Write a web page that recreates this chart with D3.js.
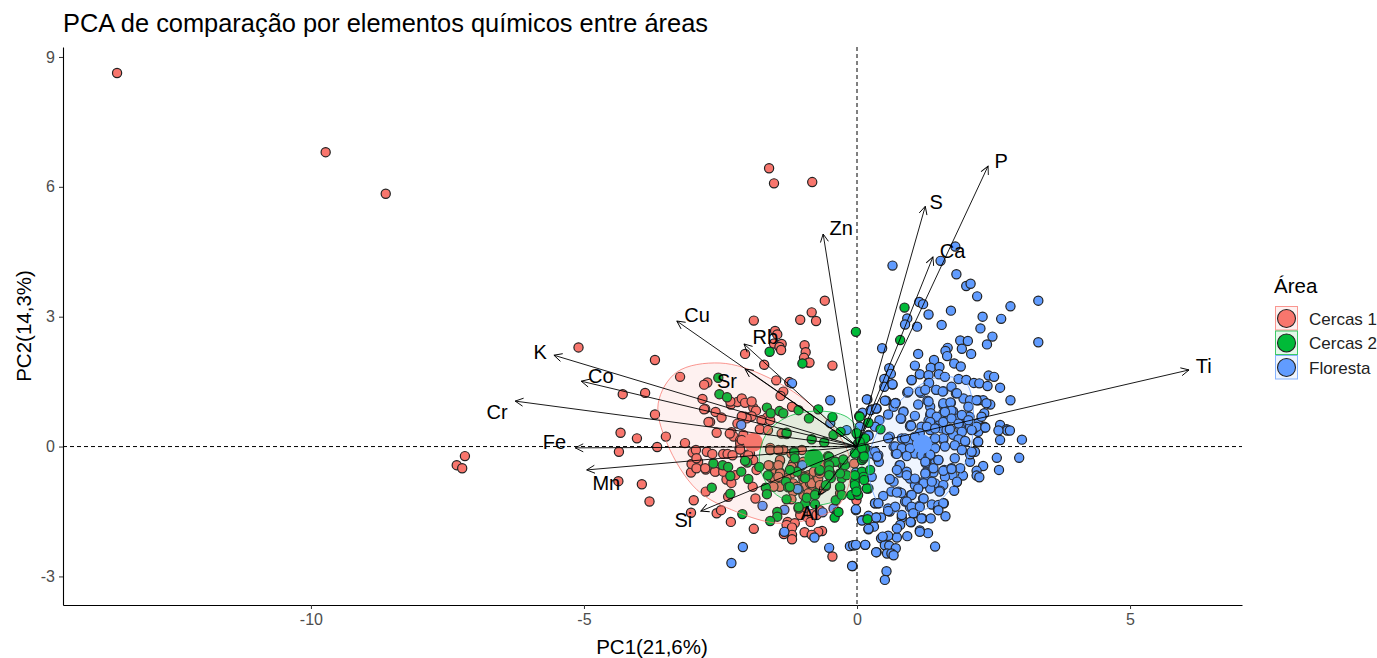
<!DOCTYPE html>
<html>
<head>
<meta charset="utf-8">
<script src="https://cdnjs.cloudflare.com/ajax/libs/d3/7.8.5/d3.min.js"></script>
<style>
  body { margin: 0; background: #fff; }
  text { font-family: "Liberation Sans", Arial, sans-serif; }
</style>
</head>
<body>
<svg id="chart" width="1377" height="658"></svg>
<script>
// scores as [PC1, PC2]
var cercas1 = [
  [-13.55,8.63],[-9.73,6.80],[-8.63,5.84],[-1.61,6.43],[-1.52,6.08],[-.82,6.11],[-5.10,2.29],[-7.33,-.43],[-7.18,-.22],[-7.23,-.50],
  [-.59,3.37],[-.83,3.10],[-.75,2.90],[-1.04,2.93],[-1.89,2.91],[-1.50,2.67],[-1.46,2.59],[-1.52,2.38],[-1.38,2.37],[-1.42,2.30],[-1.39,2.23],
  [-.96,2.34],[-.94,2.18],[-.97,2.05],[-.89,1.94],[-.87,1.94],[-.45,1.87],[-2.05,2.14],[-1.70,1.89],[-3.70,2.00],[-3.24,1.61],[-2.74,1.48],[-2.80,1.43],
  [-1.48,1.53],[-1.35,1.27],[-1.40,1.17],[-1.24,1.49],[-4.29,1.21],[-3.88,1.24],[-3.70,.74],[-4.33,.32],[-4.03,.19],[-3.50,.23],[-3.66,-.01],[-3.15,.08],
  [-2.83,1.10],[-2.78,.87],[-2.59,.80],[-2.48,.67],[-2.69,.57],[-2.72,.57],[-2.57,.32],[-2.31,.97],[-2.19,1.03],[-2.11,1.11],[-2.05,1.01],
  [-1.90,.90],[-1.85,.83],[-1.93,.70],[-2.05,.69],[-2.19,.53],[-2.02,.65],[-1.71,.61],[-1.65,.67],[-1.78,.40],[-2.30,.33],[-2.26,.23],[-2.14,.15],[-2.08,.27],
  [-2.15,-.05],[-1.93,0],[-1.19,.92],[-1.38,.30],[-1.29,.29],[-1.59,-.03],[-1.35,-.08],[-3.01,-.14],[-2.95,-.08],[-2.75,-.12],[-2.65,-.17],[-2.45,-.17],[-2.37,-.17],
  [-3.94,-.87],[-3.80,-1.27],[-2.99,-1.24],[-3.04,-1.53],[-2.57,-1.54],[-2.49,-1.47],[-2.31,-1.74],[-1.89,-1.90],[-2.77,-1.04],[-2.36,-1.16],[-1.86,-1.20],[-1.91,-.93],
  [-4.36,-.12],[-4.37,-.80],[-3.04,-.60],[-2.95,-.48],[-2.91,-.35],[-2.77,-.53],[-2.59,-.58],[-2.39,-.76],[-2.30,-.84],[-2.23,-.66],[-2.05,-.20],[-1.96,-.16],[-1.90,-.31],[-1.84,-.54],
  [-1.59,-.45],[-1.41,-.33],[-1.50,-.62],[-1.41,-.60],[-1.59,-.70],[-1.50,-.76],[-1.17,-.43],[-1.20,-.62],[-.98,-.35],[-1.01,-.66],[-.86,-.68],[-.74,-.58],[-.64,-.43],
  [-1.29,-.73],[-1.17,-.85],[-1.10,-.93],[-.98,-.77],[-.95,-.93],[-.86,-.85],[-.80,-.77],[-.71,-.85],[-.80,-1.00],[-.68,-1.00],[-.98,-1.12],[-.89,-1.08],[-1.17,-1.04],[-1.20,-1.22],[-1.41,-.93],
  [-.98,-1.47],[-.92,-1.62],[-.83,-1.56],[-.74,-1.58],[-.68,-1.47],[-1.04,-1.58],[-1.27,-1.74],[-1.14,-1.77],[-1.29,-1.81],[-1.19,-1.87],[-1.19,-2.04],[-1.19,-2.14],[-1.34,-2.02],[-.96,-1.98],[-.85,-1.74],[-.64,-1.95],[-.71,-1.97],[-.83,-2.04],
  [-.45,-2.54],[-.01,-1.24],[-.05,-.39],[-.31,-1.08],
  [-2.80,.86],[-2.32,1.04],[-1.93,1.04],[-2.33,.30],[-2.11,.70],[-1.75,.61],[-1.59,.61],[-2.14,.07],[-2.14,-.07],[-2.11,.15],[-1.63,.38],[-1.59,-.08],[-1.44,-.08],[-1.20,-.16],[-1.01,-.08],
  [-3.03,-.40],[-2.94,-.50],[-2.94,-.27],[-2.78,-.50],[-2.60,-.58],[-2.45,-.58],[-2.28,-.20],[-1.99,-.20],[-1.41,-.31],[-1.44,-.43],[-1.62,-.43],[-1.41,-.62],[-1.53,-.93],[-1.44,-.70],
  [-.89,-.66],[-.98,-.70],[-.83,-.85],[-.95,-.70],[-.71,-.74],[-.68,-.89],[-.79,-.58],[-.68,-.62],[-1.17,-.39],[-1.20,-.47]
];
var floresta = [
  [1.80,4.62],[1.53,4.29],[.65,4.18],[1.82,3.98],[2.00,3.71],[2.08,3.76],[2.20,3.47],[3.32,3.37],[2.81,3.24],[1.14,3.34],[1.21,3.29],[1.31,3.05],[1.72,3.14],[.92,2.96],[.88,2.82],[1.10,2.77],[1.55,2.81],
  [2.30,3.00],[2.64,2.95],[2.26,2.73],[2.48,2.54],[2.38,2.36],[3.32,2.41],[1.89,2.45],[2.03,2.44],[1.92,2.26],[1.66,2.28],[1.62,2.21],[1.65,2.09],[2.09,2.14],[.46,2.27],[1.12,2.14],[1.41,2.00],[1.06,1.87],[1.35,1.82],[1.51,1.84],[1.78,1.92],[1.90,1.85],
  [.59,1.81],[.62,1.68],[1.15,1.67],[1.31,1.65],[1.50,1.67],[2.41,1.64],[2.51,1.61],[.50,1.56],[.50,1.38],[.65,1.43],[1.00,1.53],[1.31,1.47],[1.61,1.61],[1.86,1.56],[2.00,1.54],[2.14,1.47],[2.24,1.46],[2.39,1.40],[2.62,1.36],
  [.92,1.25],[1.17,1.24],[1.45,1.31],[1.58,1.28],[1.73,1.38],[1.81,1.23],[1.95,1.11],[2.07,1.07],[2.22,1.07],[2.31,1.07],[2.81,1.07],[2.44,.97],[.19,1.09],[.53,1.06],[.71,1.01],[.67,.92],[.85,.81],[.57,.74],[.81,.64],[1.12,.97],[1.29,1.06],[1.34,.92],[1.72,1.01],[1.58,.96],[2.04,.92],[2.33,.77],
  [.27,.86],[.36,.88],[.41,.61],[1.06,.71],[1.34,.73],[1.49,.61],[1.76,.81],[1.95,.69],[2.06,.69],[1.58,.77],[1.70,.65],[1.84,.65],[.98,.50],[1.18,.46],[1.31,.60],[1.40,.46],[1.55,.42],[2.22,.54],[2.33,.46],[2.62,.50],[2.74,.40],[1.95,.46],[2.07,.46],[.10,.78],[.33,.46],
  [2.75,.37],[2.80,.37],[2.59,.37],[3.02,.16],[2.62,.15],[2.56,-.26],[2.97,-.26],[2.60,-.54],[2.31,-.45],[2.19,-.56],[2.19,-.67],[2.24,-.71],[1.94,-.67],[1.83,-.82],[1.78,-1.02],[2.07,-.35],[2.16,-.12],[2.07,-.18],[2.21,.10],[1.98,.11],[2.33,.44],[2.22,.34],[2.13,.40],
  [1.79,-.27],[1.89,-.50],[1.73,-.50],[1.75,-.66],[1.60,-.54],[1.61,-.70],[1.43,-.31],[1.49,-.31],[1.26,-.39],[1.40,-.60],[1.26,-.60],[1.25,-.76],[1.43,-.85],[1.58,-.89],[1.52,-1.02],[1.12,-.97],[1.34,-.97],[1.21,-.85],[1.06,-.89],[.92,-.67],[.78,-.43],[.78,-.60],[.97,-.74],[.60,-.76],[.67,-.81],[.63,-1.04],[.76,-1.04],[.81,-1.07],[.48,-1.14],[.33,-1.31],[.39,-1.31],
  [.99,-1.12],[1.21,-1.20],[1.37,-1.34],[1.59,-1.31],[1.48,-1.45],[1.49,-1.35],[.88,-1.27],[.97,-1.40],[1.06,-1.54],[1.14,-1.37],[.57,-1.43],[.60,-1.50],[.82,-1.64],[1.20,-1.66],[1.35,-1.66],[1.62,-1.61],[.36,-1.64],[.44,-1.64],[.09,-1.70],[.31,-1.85],[.21,-1.91],[.79,-1.81],[.99,-1.75],[1.15,-1.94],[1.30,-2.00],[.92,-2.07],[.73,-2.10],[.57,-2.06],[.44,-2.12],
  [.51,-2.28],[.59,-2.29],[.71,-2.35],[.36,-2.44],[.55,-2.47],[.63,-2.47],[.67,-2.51],[1.43,-2.31],[.15,-2.27],[-.04,-2.28],[-.13,-2.30],[-.08,-2.76],[.54,-2.88],[.51,-3.08],[-.02,-1.47],
  [.21,.27],[.60,.23],[.67,0],[.71,-.16],[.85,-.04],[.91,-.20],[.39,-.20],[.40,-.35],[1.06,-.16],[1.15,.31],[.97,.47],[1.34,.38],[1.40,.15],[1.58,.15],[1.76,.27],[1.64,.38],[1.88,.46],[1.18,-.20],[1.31,-.23],[.91,-.58],[.94,.11],[.82,.19],[.05,.46],
  [-1.19,1.46],[-.49,1.07],[-2.12,.50],[.18,1.09],[.25,.84],[.35,.88],[-1.73,-1.37],[-1.33,-1.46],[-1.00,-.43],[-1.07,-.99],[-.63,-1.52],[-.43,-1.43],[-1.33,-1.97],[-.78,-2.10],[-.51,-2.34],[-2.09,-2.32],[-2.30,-2.69],[-.09,-2.76],[-.07,-2.28],[-.02,-2.27],[.15,-2.27],[.35,-2.44],
  [-.02,-1.45],[.09,-1.71],[.21,-1.60],[.35,-1.64],[.21,-1.90],[.33,-1.31],[.39,-1.31],[-.02,-.60],[.27,-.70],[.30,-.12],[.36,-.24],
  [1.00,1.54],[.65,1.44],[1.32,1.47],[1.15,1.27],[.94,1.27],[1.25,1.31],[1.45,1.31],[1.57,1.27],[1.83,1.23],[2.19,1.07],[2.37,1.00],[.51,1.06],[.70,1.00],[1.31,1.04],[1.58,1.00],[1.71,1.02],[1.73,.83],[1.61,.80],[.85,.80],[.80,.65],[1.35,.77],[1.46,.69],[1.34,.57],[1.58,.57],[1.73,.65],[1.86,.53],[1.92,.73],[2.04,.61],[2.28,.69],[2.19,.46],[2.35,.44],
  [.99,.48],[1.28,.46],[1.43,.42],[1.70,.40],[1.92,.34],[2.10,.38],[1.58,.19],[1.43,.19],[1.86,.17],[1.98,.13],[2.22,.11],[.88,.19],[1.06,.23],[.57,.19],[.70,0],[.82,-.04],[.97,-.04],[1.43,-.04],[1.61,0],[1.79,.03],[1.92,-.08],[2.10,-.12],[1.34,-.19],[.91,-.22],[.73,-.17],
  [.79,-.43],[.73,-.54],[.60,-.75],[.91,-.66],[1.06,-.74],[1.22,-.85],[1.12,-.97],[1.25,-.62],[1.40,-.50],[1.58,-.56],[1.73,-.52],[1.83,-.81],[1.51,-1.04],[1.37,-.81],[1.25,-.35],[1.49,-.31],[1.00,-1.12],[.73,-1.06],[.91,-1.27],[1.22,-1.20],[1.58,-1.31],[.70,-1.39],[.57,-1.49],[1.00,-1.39],[1.15,-1.39],[.82,-1.58],[1.03,-1.54],[1.18,-1.66],[1.49,-1.47],[.98,-1.74],[.73,-1.89],[1.15,-1.97],[.47,-2.08],
  [-1.09,-.98],[-.19,.38],[.21,.25],[-.49,.54],[.27,-.16],[.33,-.12],[.37,-.23]
];
var cercas2 = [
  [-.02,2.65],[-1.60,2.19],[-1.00,1.92],[-2.54,1.59],[-2.52,1.21],[-2.38,1.14],[-1.65,.90],[-1.58,.77],[-1.42,.82],[-1.35,.77],[-1.07,.84],[-.71,.86],[-.88,.65],[-.45,.68],[.04,.70],[-.43,.27],[-.30,.34],[.01,.27],[.02,.07],[.15,.19],[.15,-.04],[-1.29,.32],[-.83,.17],[-.60,.10],[-1.15,-.12],[-.53,-.22],
  [-2.63,-.39],[-2.46,-.43],[-2.36,-.47],[-2.01,-.37],[-2.05,-.33],[-1.79,-.47],[-2.12,-.58],[-2.32,-.68],[-1.99,-.75],[-1.63,-.66],[-1.30,-.81],[-1.26,-.94],[-2.66,-.95],[-2.32,-1.09],[-1.67,-.95],[-1.65,-1.10],[-1.29,-1.22],[-1.07,-1.43],[-.95,-1.31],[-.77,-1.33],[-.75,-1.08],[-.57,-.91],[-.31,-.95],[-.39,-1.24],[-.36,-1.51],[-.41,-1.64],[-1.46,-1.51],[-1.46,-1.62],[-1.59,-1.72],[-2.10,-1.56],
  [-1.15,-.14],[-.51,-.24],[-.39,-.35],[-.26,-.43],[-.52,-.39],[-.49,-.62],[-.48,-.73],[-.69,-.56],[-1.10,-.58],[-.95,-.73],[.09,-.58],[-.04,-.81],[.12,-.70],[-.01,-.97],[.21,-.97],[-.10,-1.12],[.02,-1.12],[.09,-.31],[-.04,-.16],[.19,-1.68],[-.28,-.73],[-.19,-.66],
  [.87,3.21],[.79,2.46],[.05,.69],[.21,.55],[.43,.40],[-.01,.31],[.12,-.04],[.12,-.27],[-.04,-.89],[.18,-.97],[-.01,-1.04],[.24,-.54],[-.04,-.66],
  [.05,.11],[.09,-.04],[.13,-.23],[-.40,-.35],[-.22,-.43],[-.25,-.30],[-.31,-.62],[-.51,-.43],[-.51,-.55],[-.51,-.66],[-.68,-.54],[-.57,-.89],[-.31,-.93],[-.28,-1.12],[.13,-.77],[-.34,-1.51],[-.92,-1.18],[-.77,-1.12],[-1.07,-1.40],[-1.14,-.27],[-1.23,-.54],[-1.23,-.93]
];

// group means
var areas = ["Cercas 1", "Cercas 2", "Floresta"];
var areaColors = ["#F8766D", "#00BA38", "#619CFF"];
var centroids = [[-1.90,.10],[-.79,-.27],[1.20,.06]];

// outlines of the group ellipses
var ellipse1 = [[-2.51,1.93],[-1.65,1.61],[-.73,.84],[-.18,-.08],[-.13,-.77],[-.37,-1.40],[-.92,-1.70],[-1.47,-1.77],[-2.20,-1.51],[-2.93,-1.00],[-3.48,.08],[-3.64,1.00],[-3.30,1.72]];
var ellipse2 = [[-1.79,-.24],[-1.65,.31],[-1.28,.68],[-.73,.82],[-.18,.68],[.11,.22],[.20,-.08],[.20,-.61],[-.07,-1.07],[-.68,-1.35],[-1.10,-1.30],[-1.47,-1.12],[-1.72,-.70]];
var ellipse3 = [[1.52,1.61],[1.98,1.49],[2.12,.96],[2.07,-.08],[1.70,-1.00],[1.34,-1.40],[.79,-1.54],[.42,-1.35],[.22,-.66],[.27,.03],[.51,.61],[.97,1.26]];

// loadings and where each name sits
var elements = ["P","S","Ca","Zn","Cu","Rb","Sr","K","Co","Cr","Fe","Mn","Si","Al","Ti"];
var loadPc1 = [2.40,1.25,1.39,-.62,-3.30,-2.07,-2.05,-5.55,-5.05,-6.26,-5.16,-4.95,-2.86,-.71,6.08];
var loadPc2 = [6.48,5.55,4.38,4.91,2.90,2.37,1.79,2.11,1.51,1.05,-.03,-.54,-1.49,-1.12,1.77];
var namePc1 = [2.64,1.45,1.75,-.29,-2.93,-1.68,-2.38,-5.80,-4.69,-6.59,-5.54,-4.59,-3.18,-.87,6.35];
var namePc2 = [6.60,5.66,4.52,5.05,3.03,2.54,1.52,2.18,1.62,.80,.10,-.84,-1.70,-1.53,1.86];

var xTicks = [-10, -5, 0, 5];
var yTicks = [-3, 0, 3, 6, 9];

var svg = d3.select("#chart");
var x = d3.scaleLinear().domain([-14.54, 7.05]).range([63, 1242]);
var y = d3.scaleLinear().domain([-3.66, 9.23]).range([605, 47]);

svg.append("text").attr("x", 63).attr("y", 32)
    .attr("font-size", 25.4).attr("fill", "#000")
    .text("PCA de comparação por elementos químicos entre áreas");

// reference lines
var refs = svg.append("g").attr("stroke", "#000").attr("stroke-width", 1).attr("stroke-dasharray", "4 3");
refs.append("line").attr("x1", 63).attr("x2", 1242).attr("y1", y(0)).attr("y2", y(0));
refs.append("line").attr("x1", x(0)).attr("x2", x(0)).attr("y1", 47).attr("y2", 605);

// points: red below, then blue, then green
function drawPoints(rows, color) {
  svg.append("g")
      .attr("fill", color)
      .attr("stroke", "#222")
      .attr("stroke-width", 1.2)
    .selectAll("circle")
    .data(rows)
    .join("circle")
      .attr("cx", function(d) { return x(d[0]); })
      .attr("cy", function(d) { return y(d[1]); })
      .attr("r", 4.6);
}
drawPoints(cercas1, areaColors[0]);
drawPoints(floresta, areaColors[2]);
drawPoints(cercas2, areaColors[1]);

// big group means
svg.append("g").selectAll("circle")
    .data(centroids)
    .join("circle")
      .attr("cx", function(d) { return x(d[0]); })
      .attr("cy", function(d) { return y(d[1]); })
      .attr("r", 9.5)
      .attr("fill", function(d, i) { return areaColors[i]; });

// ellipses
var outline = d3.line()
    .x(function(d) { return x(d[0]); })
    .y(function(d) { return y(d[1]); })
    .curve(d3.curveCatmullRomClosed);
svg.append("g").selectAll("path")
    .data([ellipse1, ellipse2, ellipse3])
    .join("path")
      .attr("d", outline)
      .attr("fill", function(d, i) { return areaColors[i]; })
      .attr("fill-opacity", 0.1)
      .attr("stroke", function(d, i) { return areaColors[i]; })
      .attr("stroke-opacity", 0.75)
      .attr("stroke-width", 1);

// arrows
svg.append("defs").append("marker")
    .attr("id", "head")
    .attr("markerUnits", "userSpaceOnUse")
    .attr("viewBox", "0 0 10 10")
    .attr("markerWidth", 10)
    .attr("markerHeight", 10)
    .attr("refX", 9)
    .attr("refY", 5)
    .attr("orient", "auto")
  .append("path")
    .attr("d", "M1,1 L9,5 L1,9")
    .attr("fill", "none")
    .attr("stroke", "#000")
    .attr("stroke-width", 0.9);

svg.append("g").selectAll("line")
    .data(elements)
    .join("line")
      .attr("x1", x(0))
      .attr("y1", y(0))
      .attr("x2", function(d, i) { return x(loadPc1[i]); })
      .attr("y2", function(d, i) { return y(loadPc2[i]); })
      .attr("stroke", "#000")
      .attr("stroke-width", 0.9)
      .attr("marker-end", "url(#head)");

svg.append("g").selectAll("text")
    .data(elements)
    .join("text")
      .attr("x", function(d, i) { return x(namePc1[i]); })
      .attr("y", function(d, i) { return y(namePc2[i]); })
      .attr("text-anchor", "middle")
      .attr("dominant-baseline", "central")
      .attr("font-size", 20)
      .attr("fill", "#000")
      .text(function(d) { return d; });

// axes
var xAxis = svg.append("g")
    .attr("transform", "translate(0,605)")
    .call(d3.axisBottom(x).tickValues(xTicks).tickFormat(function(d) { return String(d); }).tickSize(4).tickPadding(5).tickSizeOuter(0));
var yAxis = svg.append("g")
    .attr("transform", "translate(63,0)")
    .call(d3.axisLeft(y).tickValues(yTicks).tickFormat(function(d) { return String(d); }).tickSize(4).tickPadding(4).tickSizeOuter(0));
[xAxis, yAxis].forEach(function(a) {
  a.selectAll("path").attr("stroke", "#000").attr("stroke-width", 1.1);
  a.selectAll("line").attr("stroke", "#333");
  a.selectAll("text").attr("font-size", 16).attr("fill", "#4D4D4D")
    .attr("font-family", "Liberation Sans");
});

svg.append("text").attr("x", 652).attr("y", 654)
    .attr("text-anchor", "middle").attr("font-size", 20.5).text("PC1(21,6%)");
svg.append("text").attr("transform", "translate(31,326) rotate(-90)")
    .attr("text-anchor", "middle").attr("font-size", 20.5).text("PC2(14,3%)");

// legend
svg.append("text").attr("x", 1274).attr("y", 293).attr("font-size", 20.5).text("Área");
var key = svg.append("g").selectAll("g")
    .data(areas)
    .join("g")
      .attr("transform", function(d, i) { return "translate(1275," + (306 + i * 24.5) + ")"; });
key.append("rect")
    .attr("x", 0.5).attr("y", 0.5).attr("width", 22).attr("height", 23.5)
    .attr("fill", function(d, i) { return areaColors[i]; })
    .attr("fill-opacity", 0.1)
    .attr("stroke", function(d, i) { return areaColors[i]; })
    .attr("stroke-opacity", 0.75);
key.append("circle")
    .attr("cx", 11.5).attr("cy", 12.5).attr("r", 9)
    .attr("fill", function(d, i) { return areaColors[i]; })
    .attr("stroke", "#222")
    .attr("stroke-width", 1.1);
key.append("text")
    .attr("x", 34).attr("y", 18.5)
    .attr("font-size", 17).attr("fill", "#222")
    .text(function(d) { return d; });
</script>
</body>
</html>
